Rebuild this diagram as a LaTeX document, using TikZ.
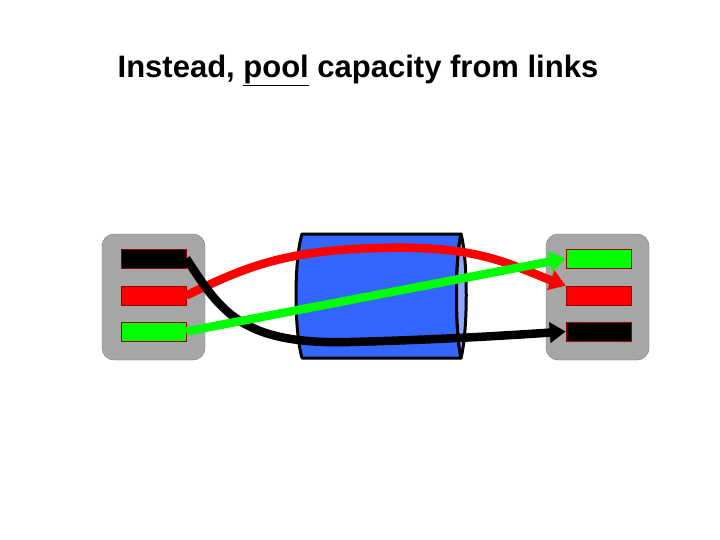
\documentclass[tikz,border=0pt]{standalone}
\usepackage{fontspec}
\setmainfont{Liberation Sans}
\usetikzlibrary{arrows.meta}
\definecolor{cylblue}{RGB}{51,102,255}
\definecolor{cylend}{RGB}{140,168,255}
\definecolor{gbox}{RGB}{166,166,166}
\definecolor{gbord}{RGB}{110,120,150}
\begin{document}
\begin{tikzpicture}[x=1pt,y=-1pt,
  box/.style={fill=gbox,draw=gbord,rounded corners=12pt},
  bar/.style={draw=red!60!black,line width=0.5pt,minimum width=65pt,minimum height=19pt,inner sep=0pt},
  wire/.style={line width=8.5pt,-{Triangle[length=16pt,width=20pt]}}]
\useasboundingbox (0,0) rectangle (720,540);
\node (title) at (358,70) {\fontsize{31}{36}\selectfont\bfseries Instead, \underline{pool} capacity from links};
\node[box,minimum width=103pt,minimum height=126pt] (L) at (153.5,297) {};
\node[box,minimum width=103pt,minimum height=126pt] (R) at (597.5,297) {};
\node[bar,fill=black] (lk) at (153.5,258.5) {};
\node[bar,fill=red] (lr) at (153.5,295.5) {};
\node[bar,fill=green] (lg) at (153.5,331.5) {};
\node[bar,fill=green] (rg) at (598.5,258.5) {};
\node[bar,fill=red] (rr) at (598.5,295.5) {};
\node[bar,fill=black] (rk) at (598.5,331.5) {};
% cylinder
\draw[fill=cylblue,line width=3pt,line join=round] (302,234) -- (461,234) .. controls (455,260) and (455,330) .. (461,358) -- (302,358) .. controls (294,330) and (294,260) .. (302,234) -- cycle;
\draw[fill=cylend,line width=3pt,line join=round] (461,234) .. controls (468,260) and (468,330) .. (461,358) .. controls (455,330) and (455,260) .. (461,234) -- cycle;
\draw[wire,red] (lr.east) .. controls (240,270) and (280,250) .. (380,248) .. controls (480,245) and (510,265) .. (rr.north west);
\draw[wire,black] (lk.east) .. controls (220,310) and (240,345) .. (350,342) .. controls (430,340) and (500,336) .. (rk.west);
\draw[wire,green] (lg.east) -- (rg.west);
\end{tikzpicture}
\end{document}
